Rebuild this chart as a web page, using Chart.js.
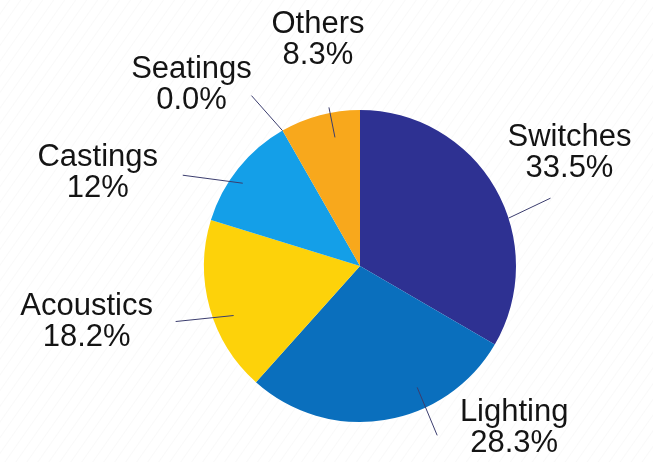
<!DOCTYPE html>
<html lang="en">

<head>
    <meta charset="UTF-8">
    <title>Market Share Pie</title>
    <script src="https://cdn.jsdelivr.net/npm/chart.js"></script>
    <style>
        body {
            margin: 0;
            background: #fff;
            font-family: "Liberation Sans", Arial, sans-serif;
        }

        .wrap {
            width: 653px;
            height: 462px;
            position: relative;
            background:
                repeating-linear-gradient(125deg, rgba(0, 0, 0, 0) 0px, rgba(0, 0, 0, 0) 7px, rgba(0, 0, 0, 0.025) 8px, rgba(0, 0, 0, 0) 9px);
        }
    </style>
</head>

<body>
    <div class="wrap">
        <canvas id="pieChart"></canvas>
    </div>

    <script>
        // data
        var categories = ['Switches', 'Lighting', 'Acoustics', 'Castings', 'Seatings', 'Others'];
        var shares = [33.5, 28.3, 18.2, 12, 0, 8.3];
        var shareLabels = ['33.5%', '28.3%', '18.2%', '12%', '0.0%', '8.3%'];
        var colors = ['#2e3192', '#0a6fbd', '#fdd20a', '#149fe8', '#149fe8', '#f8a81c'];

        // label placement: where the leader starts on the slice, where it ends, where the text goes
        var leadFrac = [0.60, 0.34, 0.41, 0.42, 0, 0.63];
        var leadRad = [1.0, 0.86, 0.87, 0.92, 1.0, 0.84];
        var leadOff = [[42, -20], [20, 48], [-58, 6], [-60, -8], [-31, -35], [-6, -30]];
        var textOff = [[19, -52], [77, -14], [-89, -7], [-85, -9], [-60, -18], [-11, -74]];

        var calloutPlugin = {
            id: 'callouts',
            afterDatasetsDraw: function (chart) {
                var ctx = chart.ctx;
                var arcs = chart.getDatasetMeta(0).data;
                ctx.save();
                arcs.forEach(function (arc, i) {
                    var p = arc.getProps(['x', 'y', 'startAngle', 'endAngle', 'outerRadius'], true);
                    var a = p.startAngle + (p.endAngle - p.startAngle) * leadFrac[i];
                    var r = p.outerRadius * leadRad[i];
                    var x1 = p.x + Math.cos(a) * r;
                    var y1 = p.y + Math.sin(a) * r;
                    var x2 = x1 + leadOff[i][0];
                    var y2 = y1 + leadOff[i][1];
                    ctx.strokeStyle = '#3b3d6e';
                    ctx.lineWidth = 1;
                    ctx.beginPath();
                    ctx.moveTo(x1, y1);
                    ctx.lineTo(x2, y2);
                    ctx.stroke();

                    var tx = x2 + textOff[i][0];
                    var ty = y2 + textOff[i][1];
                    ctx.fillStyle = '#141414';
                    ctx.font = '31px "Liberation Sans", Arial, sans-serif';
                    ctx.textAlign = 'center';
                    ctx.textBaseline = 'alphabetic';
                    ctx.fillText(categories[i], tx, ty);
                    ctx.fillText(shareLabels[i], tx, ty + 31);
                });
                ctx.restore();
            }
        };

        var ctx = document.getElementById('pieChart').getContext('2d');
        var pieChart = new Chart(ctx, {
            type: 'pie',
            data: {
                labels: categories,
                datasets: [{
                    data: shares,
                    backgroundColor: colors,
                    borderWidth: 0
                }]
            },
            options: {
                responsive: true,
                maintainAspectRatio: false,
                animation: false,
                layout: {
                    padding: { left: 204, right: 137, top: 110, bottom: 40 }
                },
                plugins: {
                    legend: { display: false },
                    tooltip: { enabled: false }
                }
            },
            plugins: [calloutPlugin]
        });
    </script>
</body>

</html>
